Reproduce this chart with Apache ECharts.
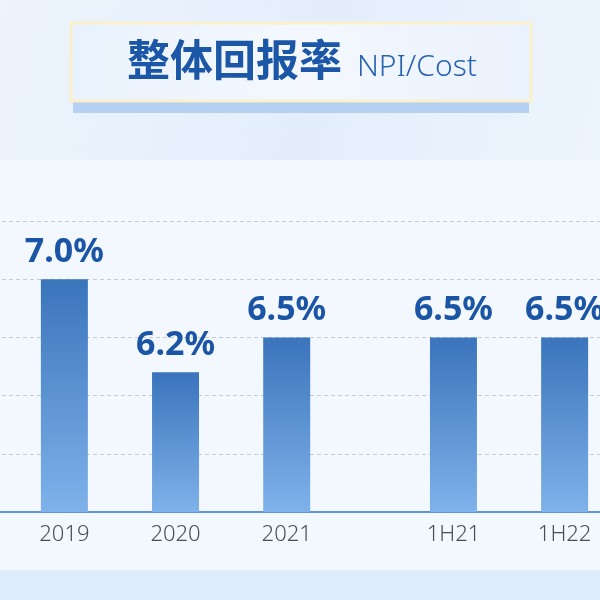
<!DOCTYPE html>
<html>
<head>
<meta charset="utf-8">
<script src="https://cdn.jsdelivr.net/npm/echarts@6/dist/echarts.min.js"></script>
<style>
    html, body { margin: 0; padding: 0; background: #eaf2fc; overflow: hidden; width: 600px; height: 600px; }
    /* 画布比窗口宽，左右两边被裁掉，和原图一样 */
    #main { position: absolute; left: -19px; top: 0; width: 667px; height: 600px; }
</style>
</head>
<body>
<div id="main"></div>
<script>
// 数据
var categories = ['2019', '2020', '2021', '1H21', '1H22'];
var npiCost = [7.0, 6.2, 6.5, 6.5, 6.5];
var yTicks = { min: 5.0, max: 7.5, step: 0.5 };

// 年度和半年度之间留空：每个类目后放一个空位，2021后面多放一个
var slots = [''];
var slotData = ['-'];
categories.forEach(function (c, i) {
    slots.push(c);
    slotData.push(npiCost[i]);
    slots.push('');
    slotData.push('-');
    if (c == '2021') {
        slots.push('');
        slotData.push('-');
    }
});

var dx = 19; // 画布左移的量
var myCharts = echarts.init(document.getElementById('main'));
var option = {
    backgroundColor: 'transparent',
    graphic: [
        // 背景
        { type: 'rect', z: -10, shape: { x: 0, y: 0, width: 667, height: 160 },
          style: { fill: new echarts.graphic.LinearGradient(0, 0, 1, 1, [
              { offset: 0, color: '#edf4fd' }, { offset: 0.5, color: '#e4eefb' }, { offset: 1, color: '#eef5fd' }]) } },
        { type: 'rect', z: -10, shape: { x: 0, y: 160, width: 667, height: 410 },
          style: { fill: '#f3f8fe' } },
        { type: 'rect', z: -10, shape: { x: 0, y: 570, width: 667, height: 30 },
          style: { fill: '#deebfb' } },
        // 标题框
        { type: 'rect', z: -5, shape: { x: 73 + dx, y: 101, width: 456, height: 12 },
          style: { fill: '#b5d0f2' } },
        { type: 'rect', z: -4, shape: { x: 71 + dx, y: 23, width: 460, height: 78 },
          style: { fill: new echarts.graphic.LinearGradient(0, 0, 1, 0, [
              { offset: 0, color: '#e9f2fd' }, { offset: 0.5, color: '#f4f8fe' }, { offset: 1, color: '#eaf2fd' }]),
              stroke: '#fbf0cc', lineWidth: 3 } },
        { type: 'text', z: 10, left: 127 + dx, top: 38,
          style: { text: '整体回报率', fill: '#1b56a7', font: 'bold 43px "Noto Sans CJK SC"' } },
        { type: 'text', z: 10, left: 357 + dx, top: 52,
          style: { text: 'NPI/Cost', fill: '#2a63b0', font: '300 30px "Noto Sans", "Noto Sans CJK SC"' } }
    ],
    grid: {
        left: 0,
        right: 0,
        top: 221,
        bottom: 88
    },
    xAxis: {
        type: 'category',
        data: slots,
        axisTick: { show: false },
        axisLine: { lineStyle: { color: '#5e93d4', width: 2 } },
        axisLabel: {
            interval: 0,
            margin: 12,
            color: '#4a4f57',
            fontSize: 22,
            fontWeight: 300,
            fontFamily: 'Noto Sans'
        }
    },
    yAxis: {
        type: 'value',
        min: yTicks.min,
        max: yTicks.max,
        interval: yTicks.step,
        axisLabel: { show: false },
        axisLine: { show: false },
        axisTick: { show: false },
        splitLine: { lineStyle: { color: '#c6cbd3', type: [4, 3], width: 1 } }
    },
    series: [{
        type: 'bar',
        data: slotData,
        barWidth: 47,
        itemStyle: {
            color: new echarts.graphic.LinearGradient(0, 0, 0, 1, [
                { offset: 0, color: '#3a74bb' },
                { offset: 1, color: '#7fb2ea' }
            ])
        },
        label: {
            show: true,
            position: 'top',
            distance: 10,
            color: '#1b55a6',
            fontSize: 34,
            fontWeight: 'bold',
            fontFamily: 'Noto Sans',
            formatter: function (p) {
                return p.value.toFixed(1) + '%';
            }
        }
    }]
};
myCharts.setOption(option);
</script>
</body>
</html>
